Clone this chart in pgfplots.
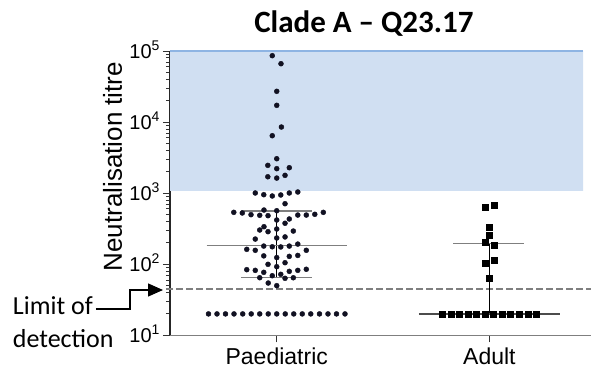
\documentclass[border=0pt]{standalone}
\usepackage{fontspec}
\setmainfont{Liberation Sans}
\newfontfamily\calibri{Carlito}
\usepackage{pgfplots}
\pgfplotsset{compat=1.18}
\usetikzlibrary{arrows.meta}
\definecolor{zonefill}{HTML}{D0DFF2}
\definecolor{zoneline}{HTML}{8EB4E3}
\definecolor{dotcol}{HTML}{111122}
\definecolor{midgray}{HTML}{7F7F7F}

% Paediatric titres (x = jitter around category 0)
\pgfplotstableread{
x y
-0.021 85900
0.020 66200
0 27100
0 17200
0.022 8520
-0.021 6430
0 3050
-0.042 2460
0 2210
0.059 2280
-0.042 1700
0 1630
0.039 1780
-0.101 1005
-0.061 951
-0.021 912
0.019 942
0.059 1005
0.099 1038
0.039 710
-0.202 537
-0.162 526
-0.121 498
-0.080 488
-0.060 579
-0.041 482
0 566
0 419
0.039 377
0.059 433
0.099 492
0.139 492
0.179 504
0.219 537
-0.080 303
-0.060 337
-0.041 287
0 313
0.078 293
-0.101 226
0 234
0.039 242
-0.141 162
-0.101 157
-0.061 180
-0.021 176
0.019 175
0.059 180
0.099 192
0.139 157
-0.061 131
0 124
0.059 129
0.099 133
-0.041 99.7
0.039 105
0 92.3
-0.141 83.8
-0.101 82.0
-0.061 76.9
-0.021 68.9
0.019 72.1
0.039 63.4
0.059 79.4
0.099 82.0
0.139 84.9
-0.080 64.6
0.078 64.5
-0.040 54.4
0 49.9
-0.321 20
-0.281 20
-0.241 20
-0.201 20
-0.160 20
-0.120 20
-0.080 20
-0.040 20
0 20
0.040 20
0.080 20
0.120 20
0.160 20
0.201 20
0.241 20
0.281 20
0.321 20
}\paeds

% Adult titres (x = jitter around category 1)
\pgfplotstableread{
x y
0.980 644
1.021 687
1.000 337
1.000 252
0.980 203
1.021 188
0.980 105
1.021 114
1.000 64
0.779 20
0.819 20
0.859 20
0.900 20
0.940 20
0.980 20
1.020 20
1.060 20
1.100 20
1.141 20
1.181 20
1.221 20
}\adults

\begin{document}
\begin{tikzpicture}
\begin{axis}[
  at={(0,0)}, anchor=south west,
  scale only axis, width=421pt, height=284.3pt,
  xmin=-0.502, xmax=1.478, ymin=10, ymax=100000,
  ymode=log,
  clip=false,
  axis x line=bottom, axis y line=left,
  x axis line style={-, midgray, line width=1.4pt},
  y axis line style={-, black!85, line width=1.2pt},
  xtick={0,1}, xticklabels={Paediatric,Adult},
  xticklabel style={font=\fontsize{23}{23}\selectfont, anchor=base, yshift=-22pt},
  ytick={10,100,1000,10000,100000},
  minor ytick={20,30,40,50,60,70,80,90,200,300,400,500,600,700,800,900,
    2000,3000,4000,5000,6000,7000,8000,9000,20000,30000,40000,50000,60000,70000,80000,90000},
  yticklabels={
    10\raisebox{7.7pt}{\fontsize{14}{14}\selectfont 1},
    10\raisebox{7.7pt}{\fontsize{14}{14}\selectfont 2},
    10\raisebox{7.7pt}{\fontsize{14}{14}\selectfont 3},
    10\raisebox{7.7pt}{\fontsize{14}{14}\selectfont 4},
    10\raisebox{7.7pt}{\fontsize{14}{14}\selectfont 5}},
  yticklabel style={font=\fontsize{20}{20}\selectfont, anchor=base east, yshift=-7.1pt},
  tick align=outside,
  major tick length=7pt, minor tick length=4pt,
  every tick/.style={black!80, line width=0.9pt},
]
% shaded region above 10^3
\addplot[fill=zonefill, draw=none, forget plot]
  coordinates {(-0.502,1080) (1.441,1080) (1.441,100000) (-0.502,100000) (-0.502,1080)};
\addplot[zoneline, line width=1.5pt, forget plot]
  coordinates {(-0.502,100000) (1.441,100000)};
% limit of detection
\addplot[midgray, line width=1.5pt, dash pattern=on 6.5pt off 3.5pt, forget plot]
  coordinates {(-0.52,45) (1.478,45)};
% paediatric median and interquartile range
\addplot[black, line width=1.1pt] coordinates {(0,64.6) (0,561)};
\addplot[midgray, line width=1.4pt] coordinates {(-0.33,182) (0.33,182)};
\addplot[midgray, line width=1.4pt] coordinates {(-0.166,64.6) (0.166,64.6)};
\addplot[midgray, line width=1.4pt] coordinates {(-0.166,561) (0.166,561)};
% adult median and interquartile range
\addplot[black, line width=1.1pt] coordinates {(1,20) (1,197)};
\addplot[black!70, line width=1.4pt] coordinates {(0.669,20) (1.332,20)};
\addplot[midgray, line width=1.4pt] coordinates {(0.831,197) (1.165,197)};
% individual titres
\addplot[only marks, mark=*, mark size=2.5pt, dotcol] table {\paeds};
\addplot[only marks, mark=square*, mark size=3pt, black] table {\adults};
\end{axis}
% title, axis label and annotation
\node[anchor=base, font=\calibri\bfseries\fontsize{31}{31}\selectfont] at (193.9pt,303pt) {Clade A – Q23.17};
\node[rotate=90, anchor=base, font=\fontsize{26}{26}\selectfont] at (-48pt,168.6pt) {Neutralisation titre};
\node[anchor=base west, inner sep=0pt, font=\calibri\fontsize{26}{26}\selectfont] at (-157.3pt,20.3pt) {Limit of};
\node[anchor=base west, inner sep=0pt, font=\calibri\fontsize{26}{26}\selectfont] at (-157.3pt,-12pt) {detection};
\draw[black, line width=1.3pt, -{Triangle[length=15pt,width=13pt]}]
  (-74pt,26.3pt) -- (-40pt,26.3pt) -- (-40pt,45.3pt) -- (-7pt,45.3pt);
\pgfresetboundingbox
\path[use as bounding box] (-170pt,-33.7pt) rectangle (421pt,335.3pt);
\end{tikzpicture}
\end{document}
